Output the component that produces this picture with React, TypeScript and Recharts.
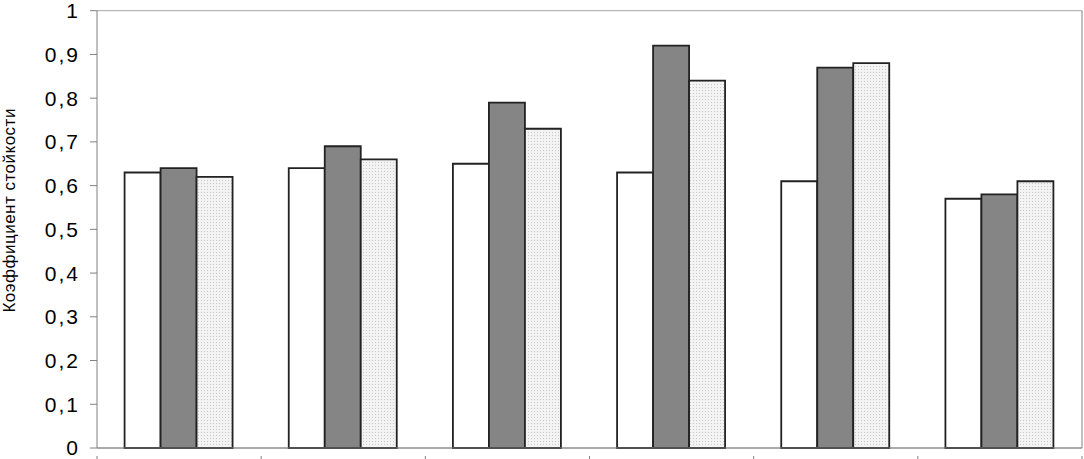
import React from 'react';
import { BarChart, Bar, XAxis, YAxis, CartesianGrid } from 'recharts';

const categories = ['1', '2', '3', '4', '5', '6'];
const seriesA = [0.63, 0.64, 0.65, 0.63, 0.61, 0.57];
const seriesB = [0.64, 0.69, 0.79, 0.92, 0.87, 0.58];
const seriesC = [0.62, 0.66, 0.73, 0.84, 0.88, 0.61];
const yTicks = [0, 0.1, 0.2, 0.3, 0.4, 0.5, 0.6, 0.7, 0.8, 0.9, 1];
const yLabel = 'Коэффициент стойкости';

const data = categories.map((c, i) => ({ cat: c, a: seriesA[i], b: seriesB[i], c: seriesC[i] }));

const FONT = '"Liberation Sans", Arial, sans-serif';

const XTick = (props: any) => {
  const { x, y, index, visibleTicksCount } = props;
  const n = visibleTicksCount || 6;
  const band = props.width / n;
  const left = x - band / 2;
  return (
    <g>
      <line x1={left} x2={left} y1={y} y2={y + 8} stroke="#808080" strokeWidth={1} />
      {index === n - 1 ? (
        <line x1={x + band / 2} x2={x + band / 2} y1={y} y2={y + 8} stroke="#808080" strokeWidth={1} />
      ) : null}
    </g>
  );
};

const YLabelContent = (props: any) => {
  const vb = props.viewBox || {};
  const cy = vb.y + vb.height / 2 - 19;
  return (
    <text
      x={10}
      y={cy}
      transform={`rotate(-90, 10, ${cy})`}
      textAnchor="middle"
      dominantBaseline="central"
      fontFamily={FONT}
      fontSize={17}
      letterSpacing={0.5}
      fill="#000"
    >
      {yLabel}
    </text>
  );
};

export default function App() {
  return (
    <div style={{ position: 'absolute', left: 0, top: 0, width: 1084, height: 459, background: '#fff' }}>
      <BarChart
        width={1084}
        height={459}
        data={data}
        margin={{ top: 10.7, right: 1, left: 0, bottom: 0 }}
        barCategoryGap="16.8%"
        barGap={0}
      >
        <defs>
          <pattern id="dots" width="3" height="3" patternUnits="userSpaceOnUse">
            <rect width="3" height="3" fill="#f3f3f3" />
            <rect x="0" y="0" width="1" height="1" fill="#c8c8c8" />
          </pattern>
        </defs>
        <CartesianGrid vertical={false} stroke="#a6a6a6" strokeWidth={1} />
        <XAxis
          dataKey="cat"
          height={11}
          axisLine={{ stroke: '#808080', strokeWidth: 1 }}
          tickLine={false}
          tick={<XTick />}
          interval={0}
        />
        <YAxis
          yAxisId="l"
          width={97}
          domain={[0, 1]}
          ticks={yTicks}
          interval={0}
          tickSize={7}
          tickMargin={10}
          axisLine={{ stroke: '#808080', strokeWidth: 1 }}
          tickLine={{ stroke: '#808080', strokeWidth: 1 }}
          tick={{ fill: '#000', fontSize: 21, fontFamily: FONT, letterSpacing: 2 }}
          tickFormatter={(v: number) => String(v).replace('.', ',')}
          label={<YLabelContent />}
        />
        <YAxis
          yAxisId="r"
          orientation="right"
          width={1}
          domain={[0, 1]}
          tick={false}
          tickLine={false}
          axisLine={{ stroke: '#808080', strokeWidth: 1 }}
        />
        <Bar yAxisId="l" dataKey="a" fill="#ffffff" stroke="#222" strokeWidth={1.8} isAnimationActive={false} />
        <Bar yAxisId="l" dataKey="b" fill="#858585" stroke="#222" strokeWidth={1.8} isAnimationActive={false} />
        <Bar yAxisId="l" dataKey="c" fill="url(#dots)" stroke="#222" strokeWidth={1.8} isAnimationActive={false} />
      </BarChart>
    </div>
  );
}
